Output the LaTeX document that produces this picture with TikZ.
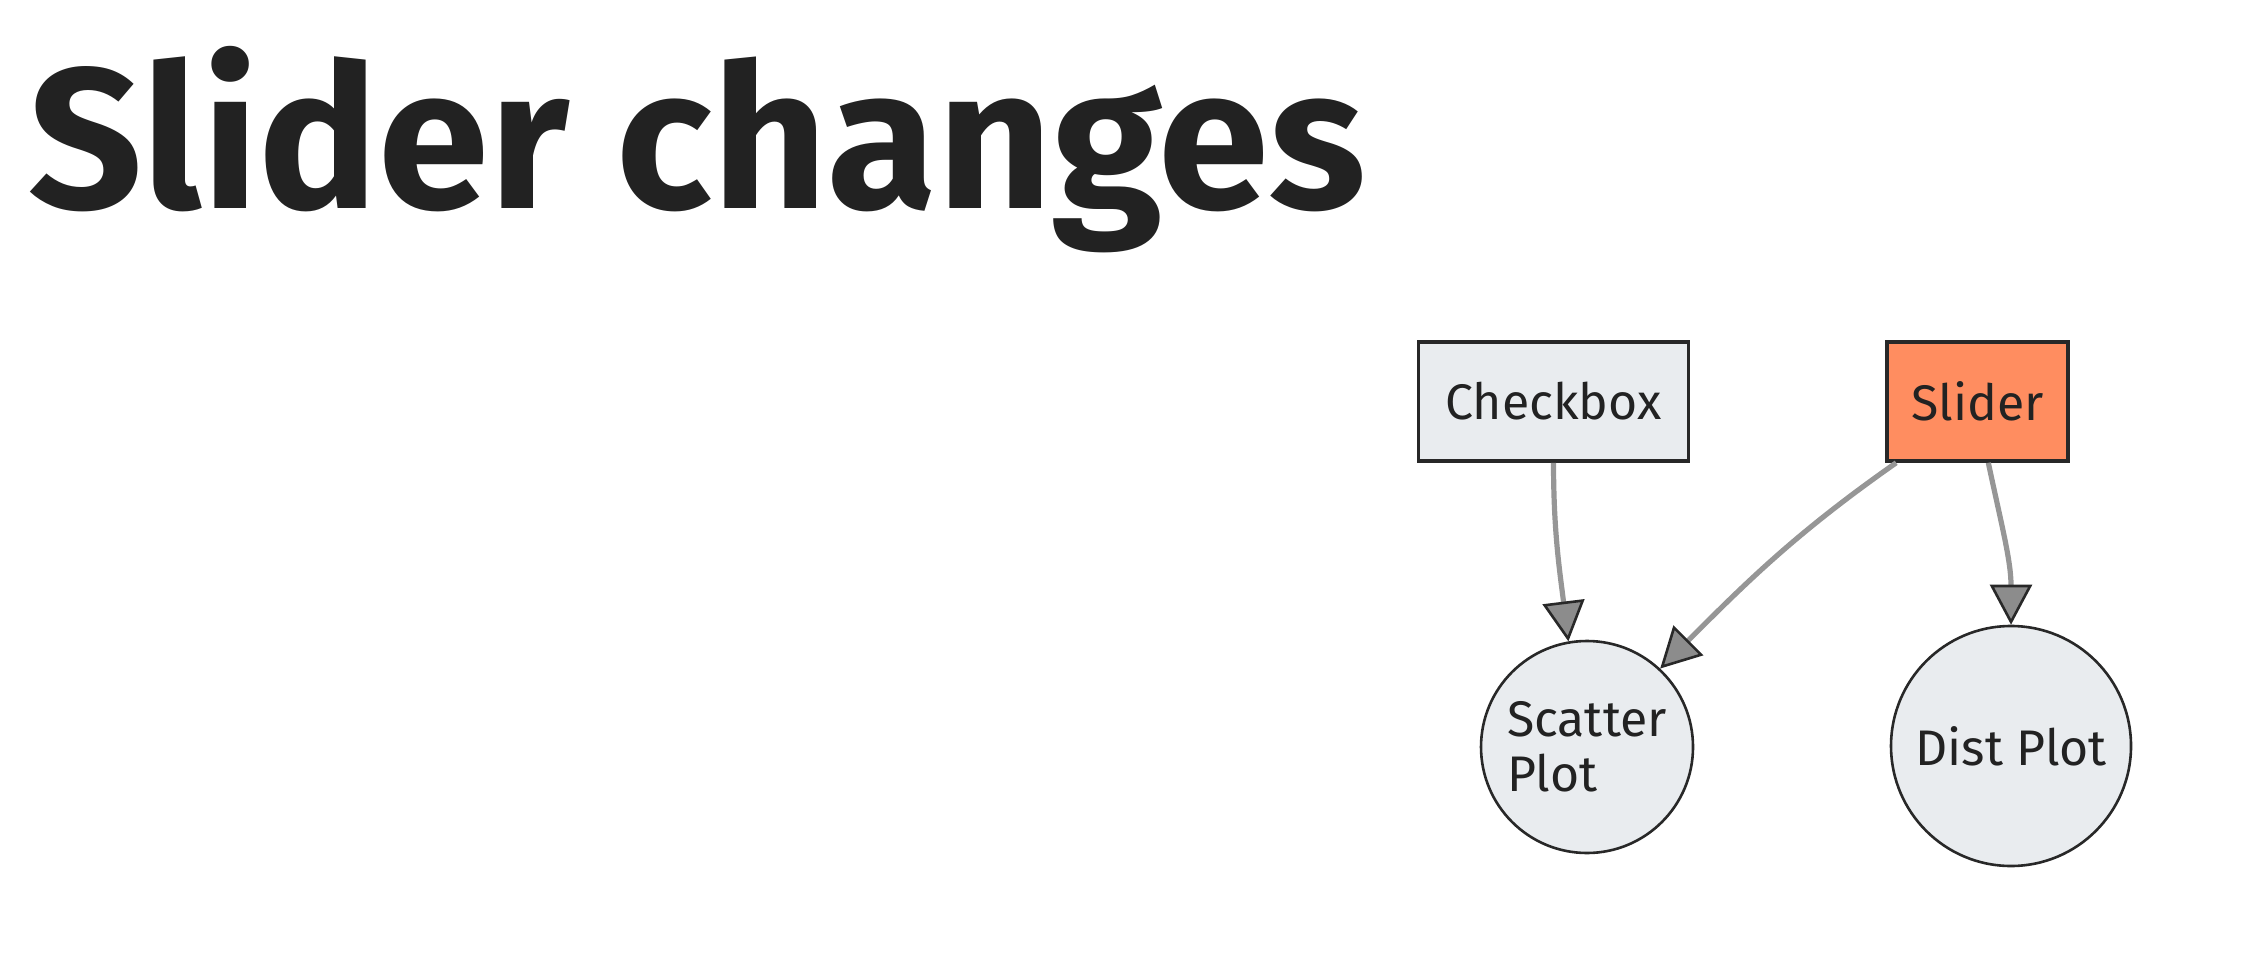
\documentclass[tikz,border=0pt]{standalone}
\usepackage{fontspec}
\setmainfont{Fira Sans}
\usetikzlibrary{arrows.meta}

\begin{document}
\begin{tikzpicture}[x=0.5pt, y=-0.5pt,
    boxnode/.style={draw=nodeline, line width=1.8pt, minimum height=59.5pt, inner sep=0pt,
        text=inkgray, font=\fontsize{25}{27.5}\selectfont},
    plotnode/.style={circle, draw=nodeline, line width=1.3pt, fill=plotfill, inner sep=0pt,
        text=inkgray, font=\fontsize{25}{27.5}\selectfont, align=left},
    edge/.style={draw=edgegray, line width=2.6pt,
        -{Triangle[length=20pt, width=21pt, fill=tipgray, color=nodeline, line width=1.3pt]}}]

    % 颜色
    \definecolor{inkgray}{RGB}{34, 34, 34}
    \definecolor{nodeline}{RGB}{40, 40, 40}
    \definecolor{plotfill}{RGB}{233, 236, 239}
    \definecolor{sliderfill}{RGB}{255, 141, 96}
    \definecolor{edgegray}{RGB}{150, 150, 150}
    \definecolor{tipgray}{RGB}{140, 140, 140}

    \useasboundingbox (0, 0) rectangle (2268, 968);

    % 标题
    \node[anchor=base west, inner sep=0pt, text=inkgray, font=\fontsize{100}{116}\selectfont\bfseries]
        (title) at (28, 209) {Slider changes};

    % 节点
    \node[boxnode, fill=plotfill, minimum width=135pt] (checkbox) at (1553.5, 401.5) {Checkbox};
    \node[boxnode, fill=sliderfill, minimum width=90.5pt] (slider) at (1977.5, 401.5) {Slider};
    \node[plotnode, minimum size=106pt] (scatter) at (1587, 747) {Scatter\\Plot};
    \node[plotnode, minimum size=120pt] (dist) at (2011, 746) {Dist Plot};

    % 连线
    \draw[edge] (checkbox.south) to[out=-90, in=97] (scatter.100);
    \draw[edge] (slider.217) to[out=215, in=45] (scatter.47);
    \draw[edge] (slider.-80) to[out=-78, in=90] (dist.north);

\end{tikzpicture}
\end{document}
